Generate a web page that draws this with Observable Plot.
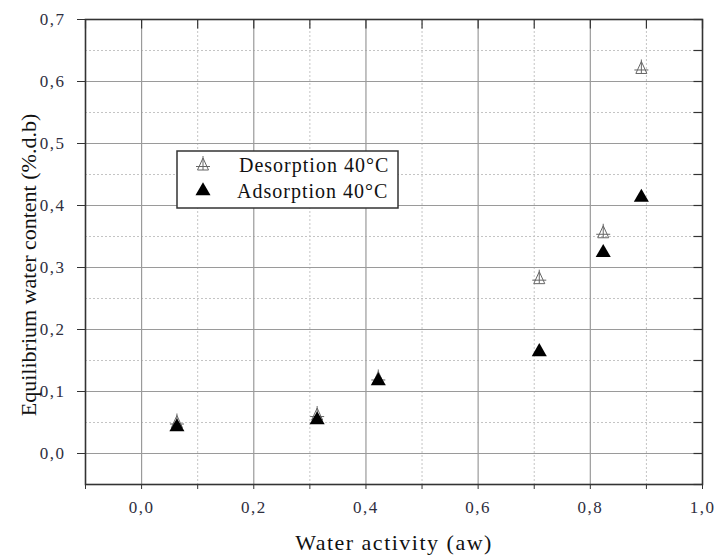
<!DOCTYPE html>
<html><head><meta charset="utf-8">
<script src="https://cdn.jsdelivr.net/npm/d3@7"></script>
<script src="https://cdn.jsdelivr.net/npm/@observablehq/plot@0.6"></script>
<style>
body{margin:0;background:#fff}
#wrap{position:relative;width:715px;height:559px;font-family:"Liberation Serif",serif}
#legend{position:absolute;left:176px;top:150px}
</style>
</head><body><div id="wrap"></div>
<script>
// Data
const aw = [0.063, 0.313, 0.422, 0.709, 0.823, 0.891];
const desorption = [0.050, 0.062, 0.121, 0.282, 0.356, 0.621];
const adsorption = [0.043, 0.054, 0.117, 0.164, 0.324, 0.413];
const seriesNames = ["Desorption 40°C", "Adsorption 40°C"];
const xDomain = [-0.1, 1.0];
const yDomain = [-0.05, 0.7];
const xMajorTicks = [0, 0.2, 0.4, 0.6, 0.8, 1.0];
const xMinorTicks = [-0.1, 0.1, 0.3, 0.5, 0.7, 0.9];
const yMajorTicks = [0, 0.1, 0.2, 0.3, 0.4, 0.5, 0.6, 0.7];
const yMinorTicks = [-0.05, 0.05, 0.15, 0.25, 0.35, 0.45, 0.55, 0.65];
const xTitle = "Water activity (aw)";
const yTitle = "Equilibrium water content (%.d.b)";

const desData = aw.map((x, i) => ({x, y: desorption[i]}));
const adsData = aw.map((x, i) => ({x, y: adsorption[i]}));
const topTicks = xMajorTicks.concat(xMinorTicks).map(x => ({x, y: yDomain[1]}));
const rightTicks = yMajorTicks.concat(yMinorTicks).map(y => ({x: xDomain[1], y}));

const fmt = d => d.toFixed(1).replace(".", ",");
const none = () => "";

// custom symbol: triangle outline with cross
const crossTriangle = {
  draw(ctx, size) {
    const r = Math.sqrt(size / Math.PI);
    const k = r / 7;
    ctx.moveTo(0, -7 * k); ctx.lineTo(-5.5 * k, 5 * k);
    ctx.moveTo(0, -7 * k); ctx.lineTo(5.5 * k, 5 * k);
    ctx.moveTo(-5.5 * k, 5 * k); ctx.lineTo(5.5 * k, 5 * k);
    ctx.moveTo(0, -9 * k); ctx.lineTo(0, 5 * k);
    ctx.moveTo(-7 * k, 1.5 * k); ctx.lineTo(7 * k, 1.5 * k);
  }
};
// inward tick symbols
const tickDown = {draw(ctx) { ctx.moveTo(0, 0); ctx.lineTo(0, 9); }};
const tickLeft = {draw(ctx) { ctx.moveTo(0, 0); ctx.lineTo(-9, 0); }};

const tickColor = "#2e2e3e";
const chart = Plot.plot({
  width: 715, height: 559,
  marginLeft: 85, marginRight: 13, marginTop: 19, marginBottom: 75,
  style: {fontFamily: "Liberation Serif, serif", fontSize: "17px", background: "#fff", letterSpacing: "1.5px"},
  x: {domain: xDomain},
  y: {domain: yDomain},
  marks: [
    Plot.gridX({ticks: xMinorTicks.filter(d => d > xDomain[0]), stroke: "#c4c4c4", strokeOpacity: 1, strokeDasharray: "2,2"}),
    Plot.gridY({ticks: yMinorTicks.filter(d => d > yDomain[0]), stroke: "#c4c4c4", strokeOpacity: 1, strokeDasharray: "2,2"}),
    Plot.gridX({ticks: xMajorTicks.filter(d => d < xDomain[1]), stroke: "#9a9a9a", strokeOpacity: 1, strokeWidth: 1.2}),
    Plot.gridY({ticks: yMajorTicks.filter(d => d < yDomain[1]), stroke: "#9a9a9a", strokeOpacity: 1, strokeWidth: 1.2}),
    // bottom axis: labelled majors, minor ticks
    Plot.axisX({ticks: xMajorTicks, tickSize: 5, tickPadding: 11, tickFormat: fmt, fontSize: 17, fill: tickColor, stroke: "#333", label: null}),
    Plot.axisX({ticks: xMinorTicks, tickSize: 5, tickFormat: none, stroke: "#333", label: null}),
    // left axis
    Plot.axisY({ticks: yMajorTicks, tickSize: 8, tickPadding: 12, tickFormat: fmt, fontSize: 17, fill: tickColor, stroke: "#333", label: null}),
    // inward ticks on top and right
    Plot.dot(topTicks, {x: "x", y: "y", symbol: tickDown, stroke: "#333", strokeWidth: 1.2}),
    Plot.dot(rightTicks, {x: "x", y: "y", symbol: tickLeft, stroke: "#333", strokeWidth: 1.2}),
    Plot.frame({stroke: "#333", strokeWidth: 1.6}),
    Plot.dot(desData, {x: "x", y: "y", symbol: crossTriangle, r: 7, stroke: "#666", strokeWidth: 1, fill: "none"}),
    Plot.dot(adsData, {x: "x", y: "y", symbol: "triangle", r: 5.6, fill: "#000", stroke: "none"}),
    Plot.text([xTitle], {text: d => d, frameAnchor: "bottom", dy: 65, fontSize: 22, fill: "#111"}),
    Plot.text([yTitle], {text: d => d, frameAnchor: "left", textAnchor: "middle", rotate: -90, dx: -57, dy: 13, fontSize: 22, fill: "#111"})
  ]
});
// the rotated title uses normal letter spacing
d3.select(chart).selectAll("text").filter(function() { return this.textContent === yTitle; })
  .style("letter-spacing", "0px");
const wrap = document.getElementById("wrap");
wrap.appendChild(chart);

// legend overlay
const lg = d3.select(wrap).append("svg").attr("id", "legend")
  .attr("width", 223).attr("height", 59)
  .style("font-family", "Liberation Serif, serif");
lg.append("rect").attr("x", 1).attr("y", 1).attr("width", 221).attr("height", 57)
  .attr("fill", "#fff").attr("stroke", "#333").attr("stroke-width", 1.5);
lg.append("path").attr("transform", "translate(27,15)")
  .attr("d", d3.symbol(crossTriangle, Math.PI * 49)()).attr("fill", "none").attr("stroke", "#666");
lg.append("path").attr("transform", "translate(27,41)")
  .attr("d", d3.symbol(d3.symbolTriangle, Math.PI * 5.6 * 5.6)()).attr("fill", "#000");
lg.append("text").attr("x", 63).attr("y", 22).attr("font-size", 20).attr("letter-spacing", "1px").attr("fill", "#111").text(seriesNames[0]);
lg.append("text").attr("x", 61).attr("y", 48).attr("font-size", 20).attr("letter-spacing", "1px").attr("fill", "#111").text(seriesNames[1]);
</script>
</body></html>
